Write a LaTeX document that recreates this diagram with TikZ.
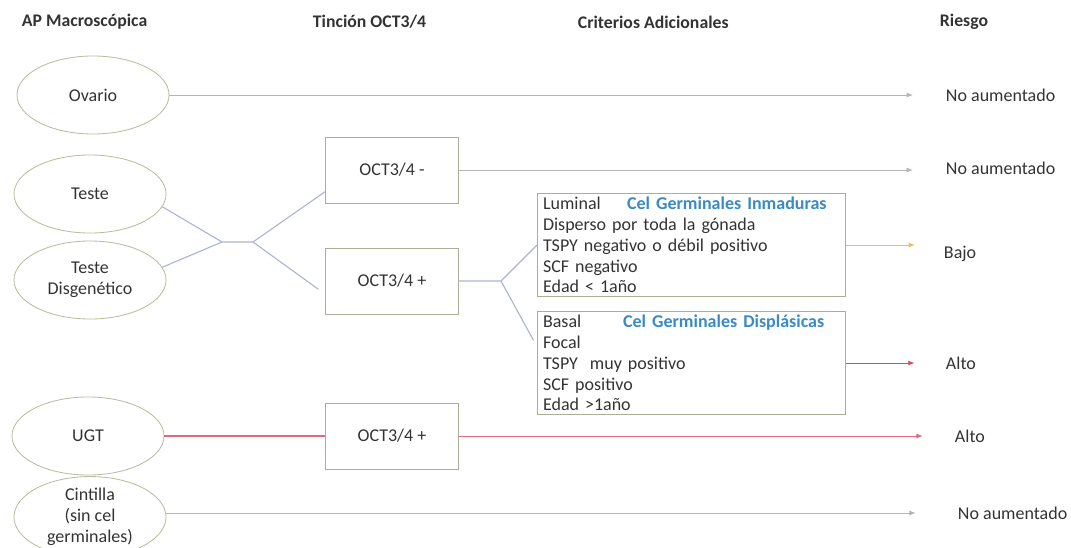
\documentclass[tikz,border=0pt]{standalone}
\usepackage{fontspec}
\setmainfont{Carlito}
\usetikzlibrary{arrows.meta,shapes.geometric}
\definecolor{txtgray}{HTML}{333333}
\definecolor{olivegray}{HTML}{B8BE9E}
\definecolor{boxgray}{HTML}{A9AF98}
\definecolor{lngray}{HTML}{B5B5B5}
\definecolor{lnblue}{HTML}{ADB3D6}
\definecolor{lnred}{HTML}{E26A7E}
\definecolor{lnorange}{HTML}{F4BE4F}
\definecolor{lnalto}{HTML}{D24D66}
\definecolor{celblue}{HTML}{3A8AC4}
\begin{document}
\begin{tikzpicture}[x=0.025cm, y=-0.025cm,
  every node/.style={font=\fontsize{12.8}{14.8}\selectfont, text=txtgray},
  head/.style={font=\fontsize{12.6}{15}\selectfont\bfseries, anchor=west},
  gonada/.style={draw=olivegray, line width=0.6pt, ellipse, minimum width=3.8cm, minimum height=1.95cm, align=center, inner sep=0pt},
  tincion/.style={draw=boxgray, line width=0.6pt, minimum width=3.33cm, minimum height=1.65cm},
  criterio/.style={draw=boxgray, line width=0.6pt, anchor=north west, text width=7.42cm, align=left, inner xsep=4pt, inner ysep=2.5pt},
  riesgo/.style={anchor=west},
  flecha/.style={-{Latex[length=4.5pt,width=3.5pt]}, line width=0.6pt},
  union/.style={lnblue, line width=0.8pt},
]
  \clip (0,0) rectangle (1071,547);
  % encabezados
  \node[head] (hap) at (17,22) {AP Macroscópica};
  \node[head] (htin) at (308,22) {Tinción OCT3/4};
  \node[head] (hcrit) at (573,22) {Criterios Adicionales};
  \node[head] (hries) at (935,22) {Riesgo};
  % gónadas
  \node[gonada] (ovario) at (93,95) {Ovario};
  \node[gonada] (teste) at (90,194) {Teste};
  \node[gonada] (disg) at (90,280) {Teste\\Disgenético};
  \node[gonada] (ugt) at (88,436) {UGT};
  \node[gonada] (cint) at (90,517) {Cintilla\\(sin cel\\germinales)};
  % tinción
  \node[tincion] (octm) at (392,170) {OCT3/4 -};
  \node[tincion] (octp) at (392,281) {OCT3/4 +};
  \node[tincion] (octu) at (392,436) {OCT3/4 +};
  % criterios
  \node[criterio] (crit1) at (537,193) {\makebox[2.1cm][l]{Luminal}{\color{celblue}\bfseries Cel Germinales Inmaduras}\\
    Disperso por toda la gónada\\TSPY negativo o débil positivo\\SCF negativo\\Edad < 1año};
  \node[criterio] (crit2) at (537,311) {\makebox[2.0cm][l]{Basal}{\color{celblue}\bfseries Cel Germinales Displásicas}\\
    Focal\\TSPY\ \ muy positivo\\SCF positivo\\Edad >1año};
  % riesgo
  \node[riesgo] (r1) at (941,95) {No aumentado};
  \node[riesgo] (r2) at (941,168) {No aumentado};
  \node[riesgo] (bajo) at (939,254) {Bajo};
  \node[riesgo] (alto1) at (941,363) {Alto};
  \node[riesgo] (alto2) at (950,436) {Alto};
  \node[riesgo] (r3) at (953,513) {No aumentado};
  % uniones
  \coordinate (j1) at (222,242);
  \coordinate (j2) at (253,242);
  \coordinate (k1) at (501,281);
  \draw[union] (teste.-10) -- (j1) -- (j2);
  \draw[union] (disg.10) -- (j1);
  \draw[union] (j2) -- (octm.198);
  \draw[union, shorten >=0.2cm] (j2) -- (octp.191);
  \draw[union] (octp.east) -- (k1) -- (crit1.west);
  \draw[union, shorten >=0.18cm] (k1) -- (crit2.174);
  % flechas
  \draw[flecha, lngray, shorten >=0.7cm] (ovario.east) -- (ovario.east -| r1.west);
  \draw[flecha, lngray, shorten >=0.7cm] (octm.east) -- (octm.east -| r2.west);
  \draw[flecha, lnorange, shorten >=0.6cm] (crit1.east) -- (crit1.east -| bajo.west);
  \draw[flecha, lnalto, shorten >=0.66cm] (crit2.east |- alto1) -- (alto1.west);
  \draw[lnred, line width=0.8pt] (ugt.east) -- (octu.west);
  \draw[flecha, lnred, shorten >=0.68cm] (octu.east) -- (alto2.west);
  \draw[flecha, lngray, shorten >=0.93cm] (cint.east |- r3) -- (r3.west);
\end{tikzpicture}
\end{document}
